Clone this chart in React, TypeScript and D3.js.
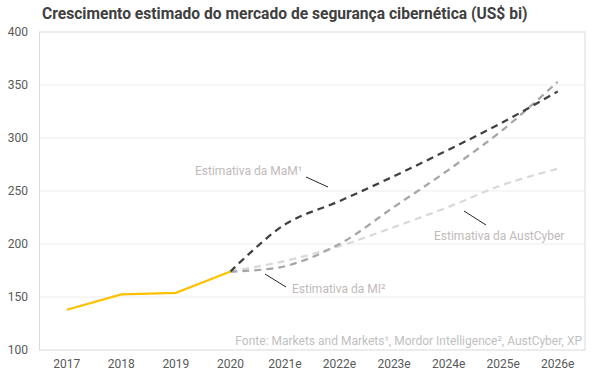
import React from "react";
import * as d3 from "d3";

const categories = ["2017", "2018", "2019", "2020", "2021e", "2022e", "2023e", "2024e", "2025e", "2026e"];
const historicalCats = ["2017", "2018", "2019", "2020"];
const historicalValues = [138, 152.5, 154, 174];
const estimateCats = ["2020", "2021e", "2022e", "2023e", "2024e", "2025e", "2026e"];
const mamValues = [174, 218.5, 240.5, 264, 289, 315, 344];
const miValues = [174, 179, 200, 235, 270, 308, 353];
const austValues = [174, 184, 198, 216, 235, 256, 271];
const yTicks = [100, 150, 200, 250, 300, 350, 400];

const W = 600;
const H = 378;
const left = 39.5;
const right = 585;
const top = 32;
const bottom = 350;

export default function App() {
  const x = d3.scaleBand<string>().domain(categories).range([left, right]).padding(0);
  const y = d3.scaleLinear().domain([100, 400]).range([bottom, top]);
  const cx = (c: string) => (x(c) as number) + x.bandwidth() / 2;

  const straight = d3
    .line<[string, number]>()
    .x((d) => cx(d[0]))
    .y((d) => y(d[1]));
  const smooth = d3
    .line<[string, number]>()
    .x((d) => cx(d[0]))
    .y((d) => y(d[1]))
    .curve(d3.curveCatmullRom.alpha(0.5));

  const zip = (cs: string[], vs: number[]) => cs.map((c, i) => [c, vs[i]] as [string, number]);
  const font = "Roboto, 'Noto Sans', sans-serif";
  const annColor = "#BFBABA";

  return (
    <svg width={W} height={H} style={{ position: "absolute", left: 0, top: 0 }} fontFamily={font}>
      <rect x={0} y={0} width={W} height={H} fill="#fff" />
      <text x={42} y={19} fontSize={15.6} fontWeight="bold" fill="#404040">
        Crescimento estimado do mercado de segurança cibernética (US$ bi)
      </text>
      {yTicks.map((t) => (
        <g key={t}>
          {t !== 100 && t !== 400 && (
            <line x1={left} x2={right} y1={y(t)} y2={y(t)} stroke="#EDEDED" strokeWidth={1} />
          )}
          <text x={28} y={y(t)} dy="0.35em" textAnchor="end" fontSize={12} fill="#595959">
            {t}
          </text>
        </g>
      ))}
      <rect x={left} y={top} width={right - left} height={bottom - top} fill="none" stroke="#D9D9D9" strokeWidth={1} />
      {categories.map((c) => (
        <text key={c} x={cx(c)} y={368} textAnchor="middle" fontSize={12} fill="#595959">
          {c}
        </text>
      ))}
      <path d={smooth(zip(estimateCats, austValues)) || ""} fill="none" stroke="#D9D9D9" strokeWidth={2.25} strokeDasharray="7 5" />
      <path d={smooth(zip(estimateCats, miValues)) || ""} fill="none" stroke="#A6A6A6" strokeWidth={2.25} strokeDasharray="7 5" />
      <path d={smooth(zip(estimateCats, mamValues)) || ""} fill="none" stroke="#404040" strokeWidth={2.25} strokeDasharray="7 5" />
      <path d={straight(zip(historicalCats, historicalValues)) || ""} fill="none" stroke="#FFC000" strokeWidth={2.25} />

      <text x={195} y={175} fontSize={12} fill={annColor}>Estimativa da MaM¹</text>
      <line x1={306} y1={177} x2={328} y2={187} stroke="#262626" strokeWidth={1} />
      <text x={292} y={293} fontSize={12} fill={annColor}>Estimativa da MI²</text>
      <line x1={265} y1={274} x2={286} y2={287} stroke="#262626" strokeWidth={1} />
      <text x={434} y={240} fontSize={12} fill={annColor}>Estimativa da AustCyber</text>
      <line x1={464} y1={211} x2={486} y2={225} stroke="#262626" strokeWidth={1} />

      <text x={582} y={345} textAnchor="end" fontSize={12} fill="#BFBFBF">
        Fonte: Markets and Markets¹, Mordor Intelligence², AustCyber, XP
      </text>
    </svg>
  );
}
